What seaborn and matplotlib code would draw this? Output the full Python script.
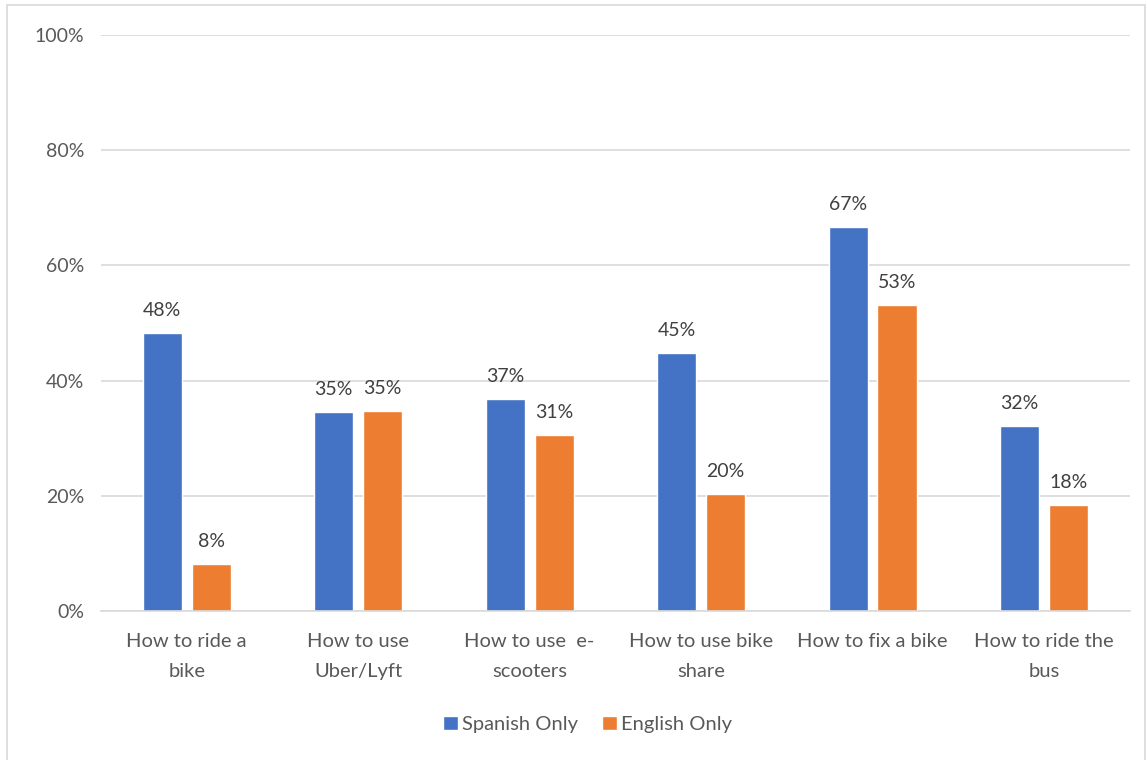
import matplotlib
matplotlib.use("Agg")
import matplotlib.pyplot as plt
import seaborn as sns
import pandas as pd
from matplotlib.patches import Rectangle
from matplotlib.ticker import PercentFormatter

# ========== data ==========
categories = ["How to ride a\nbike", "How to use\nUber/Lyft", "How to use  e-\nscooters",
              "How to use bike\nshare", "How to fix a bike", "How to ride the\nbus"]
spanish_only = [48.3, 34.6, 36.8, 44.8, 66.7, 32.1]
english_only = [8.1, 34.7, 30.6, 20.3, 53.1, 18.4]
series_names = ["Spanish Only", "English Only"]
colors = ["#4472C4", "#ED7D31"]

df = pd.DataFrame({
    "cat": categories * 2,
    "val": spanish_only + english_only,
    "series": [series_names[0]] * len(categories) + [series_names[1]] * len(categories),
})

# ========== plot ==========
sns.set_style("white")
plt.rcParams["font.family"] = ["Lato", "DejaVu Sans"]

fig = plt.figure(figsize=(11.47, 7.6), dpi=100)
ax = fig.add_axes([0.088, 0.196, 0.897, 0.758])

sns.barplot(data=df, x="cat", y="val", hue="series", palette=colors,
            width=0.57, gap=0.2, saturation=1, ax=ax, legend=True)

ax.set_ylim(0, 100)
ax.set_yticks(range(0, 101, 20))
ax.yaxis.set_major_formatter(PercentFormatter(decimals=0))
ax.set_xlim(-0.5, len(categories) - 0.5)
ax.grid(axis="y", color="#d9d9d9", linewidth=1.2)
ax.set_axisbelow(True)
for s in ["top", "right", "left"]:
    ax.spines[s].set_visible(False)
ax.spines["bottom"].set_color("#d9d9d9")
ax.spines["bottom"].set_linewidth(1.2)
ax.tick_params(axis="y", length=0, labelsize=14, colors="#595959", pad=12)
ax.tick_params(axis="x", length=0, labelsize=14.5, colors="#595959", pad=16)
for lbl in ax.get_xticklabels():
    lbl.set_linespacing(1.9)
ax.set_xlabel("")
ax.set_ylabel("")

for cont in ax.containers:
    ax.bar_label(cont, labels=[f"{round(v):d}%" for v in cont.datavalues],
                 padding=10, fontsize=14, color="#404040")

handles, labels = ax.get_legend_handles_labels()
ax.legend_.remove()
fig.legend(handles, labels, loc="center", bbox_to_anchor=(0.512, 0.047), ncol=2,
           frameon=False, fontsize=14.5, handlelength=0.75, handleheight=0.75,
           handletextpad=0.2, columnspacing=1.2, labelcolor="#595959")

fig.patches.append(Rectangle((0.006, -0.01), 0.992, 1.003, transform=fig.transFigure,
                             fill=False, edgecolor="#d9d9d9", linewidth=1.2))

fig.savefig("out.png", dpi=100)
